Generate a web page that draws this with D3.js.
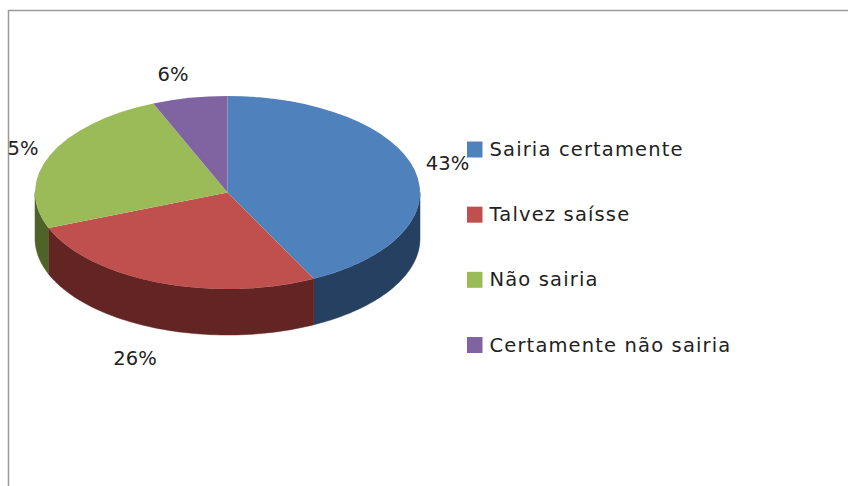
<!DOCTYPE html>
<html><head><meta charset="utf-8">
<script src="https://cdn.jsdelivr.net/npm/d3@7"></script>
<style>html,body{margin:0;padding:0;background:#fff;overflow:hidden}svg{display:block}</style>
</head><body><svg id="c" width="848" height="486"></svg>
<script>
const categories = ["Sairia certamente","Talvez saísse","Não sairia","Certamente não sairia"];
// slice sizes estimated from the drawn angles; they round to the printed labels
const values = [42.6,26.4,24.7,6.3];
// the third label is cut off by the frame in the reference and reads "5%"
const pctLabels = ["43%","26%","5%","6%"];
const topColors = ["#4f81bd","#c0504d","#9bbb59","#8064a2"];
const sideColors = ["#254061","#632523","#4f6228","#403152"];

const cx=227.5, cy=192.5, rx=192.5, ry=96.5, depth=46;
const svg=d3.select("#c");
const font='"DejaVu Sans"';

svg.append("path").attr("d","M8.5 486V10.5H848").attr("fill","none").attr("stroke","#9a9a9a").attr("stroke-width",1.5);

const arcs=d3.pie().sort(null)(values);
const k=ry/rx;
const edge=(a,dy)=>[cx+rx*Math.sin(a), cy-ry*Math.cos(a)+dy];
const line=d3.line();

// side wall: the part of each slice's rim on the near half of the ellipse
arcs.forEach((d,i)=>{
  const a0=Math.max(d.startAngle,Math.PI/2), a1=Math.min(d.endAngle,3*Math.PI/2);
  if(a1<=a0) return;
  const steps=d3.range(0,61).map(t=>a0+(a1-a0)*t/60);
  const pts=steps.map(a=>edge(a,0)).concat(steps.slice().reverse().map(a=>edge(a,depth)));
  svg.append("path").attr("d",line(pts)+"Z").attr("fill",sideColors[i]).attr("stroke",sideColors[i]).attr("stroke-width",.5);
});

const arcGen=d3.arc().innerRadius(0).outerRadius(rx);
const pieTop=svg.append("g").attr("transform",`translate(${cx},${cy}) scale(1,${k})`);
pieTop.selectAll("path").data(arcs).join("path")
  .attr("d",arcGen).attr("fill",(d,i)=>topColors[i]);

// data labels
const labelPos=[[447.5,162.5],[135,358],[23,148],[173,74]];
svg.selectAll("text.p").data(pctLabels).join("text").attr("class","p")
  .attr("x",(d,i)=>labelPos[i][0]).attr("y",(d,i)=>labelPos[i][1])
  .attr("dy","0.36em").attr("text-anchor","middle")
  .attr("font-family",font).attr("font-size",19.5).attr("fill","#222").text(d=>d);

// legend
const yL=d3.scalePoint().domain(categories).range([149.5,345]);
const lg=svg.selectAll("g.l").data(categories).join("g").attr("class","l")
  .attr("transform",d=>`translate(467,${yL(d)})`);
lg.append("rect").attr("x",0).attr("y",-8).attr("width",15.5).attr("height",16)
  .attr("fill",(d,i)=>topColors[i]);
lg.append("text").attr("x",22.5).attr("y",-0.5).attr("dy","0.36em")
  .attr("font-family",font).attr("font-size",19.5).attr("letter-spacing",1.15).attr("fill","#222").text(d=>d);
</script></body></html>
